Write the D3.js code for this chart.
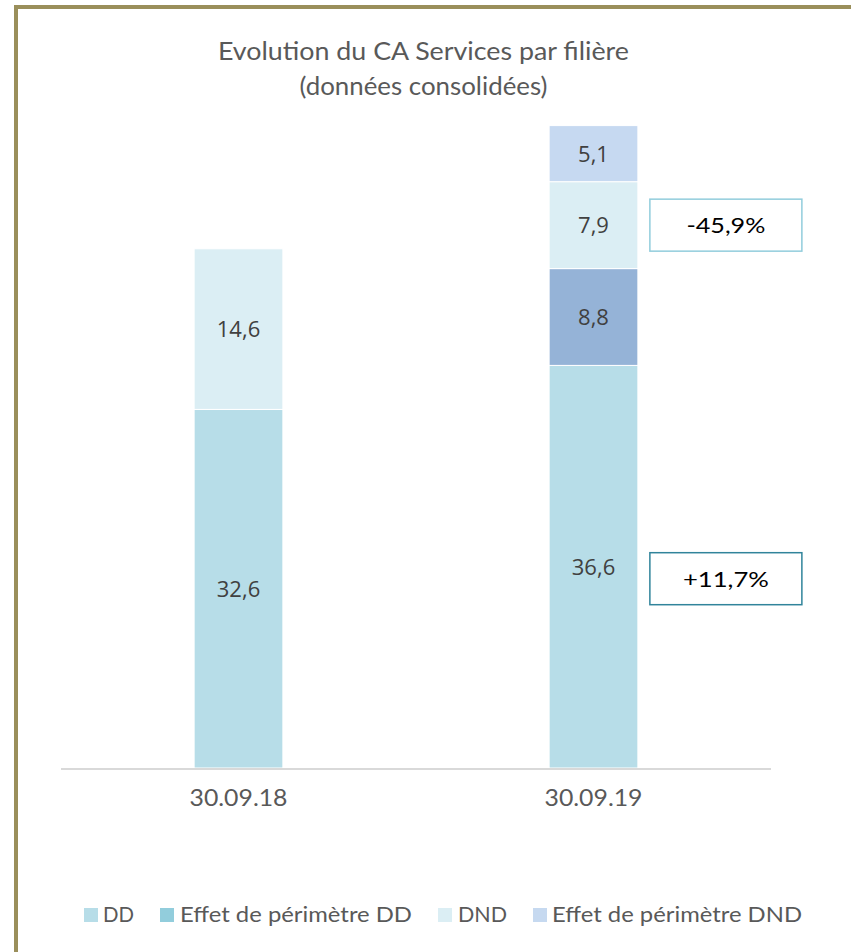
<!DOCTYPE html>
<html>
<head>
<meta charset="utf-8">
<script src="https://cdn.jsdelivr.net/npm/d3@7"></script>
<style>
  html, body { margin: 0; padding: 0; background: #ffffff; }
  svg { display: block; }
</style>
</head>
<body>
<script>
// ---- data ----
const categories = ["30.09.18", "30.09.19"];
const seriesNames = ["DD", "Effet de périmètre DD", "DND", "Effet de périmètre DND"];
const valuesDD = [32.6, 36.6];
const valuesEffetDD = [0, 8.8];
const valuesDND = [14.6, 7.9];
const valuesEffetDND = [0, 5.1];
const barColors = ["#b7dde8", "#95b3d7", "#dbeef4", "#c6d9f1"];
const legendColors = ["#b7dde8", "#92cddc", "#dbeef4", "#c6d9f0"];
const titleLines = ["Evolution du CA Services par filière", "(données consolidées)"];
const changeLabels = ["-45,9%", "+11,7%"];   // DND change, DD change
const changeColors = ["#92cddc", "#31849b"];

// ---- build ----
const W = 851, H = 952;
const svg = d3.select("body").append("svg").attr("width", W).attr("height", H);

// frame
svg.append("rect").attr("x", 16).attr("y", 7).attr("width", W + 20).attr("height", H + 20)
  .attr("fill", "#ffffff").attr("stroke", "#9a8f5b").attr("stroke-width", 4);

const rows = categories.map((c, i) => ({
  cat: c,
  "DD": valuesDD[i],
  "Effet de périmètre DD": valuesEffetDD[i],
  "DND": valuesDND[i],
  "Effet de périmètre DND": valuesEffetDND[i]
}));
const stack = d3.stack().keys(seriesNames)(rows);

const x = d3.scaleBand().domain(categories).range([61, 771]).paddingInner(0.75).paddingOuter(0.375);
const y = d3.scaleLinear().domain([0, 60]).range([768, 108]);
const color = d3.scaleOrdinal().domain(seriesNames).range(barColors);

// title
const title = svg.append("g").attr("font-family", "Lato, 'Open Sans', sans-serif")
  .attr("fill", "#595959").attr("font-size", 25).attr("text-anchor", "middle");
title.append("text").attr("x", 423.5).attr("y", 60).attr("textLength", 411)
  .attr("lengthAdjust", "spacingAndGlyphs").text(titleLines[0]);
title.append("text").attr("x", 423.5).attr("y", 95).attr("textLength", 248)
  .attr("lengthAdjust", "spacingAndGlyphs").text(titleLines[1]);

// bars
const layers = svg.append("g").selectAll("g").data(stack).join("g")
  .attr("fill", d => color(d.key));
layers.selectAll("rect").data(d => d.filter(s => s[1] - s[0] > 0)).join("rect")
  .attr("x", d => x(d.data.cat))
  .attr("width", x.bandwidth())
  .attr("y", d => y(d[1]))
  .attr("height", d => y(d[0]) - y(d[1]))
  .attr("stroke", "#ffffff").attr("stroke-width", 1);

// data labels
const fmt = v => d3.format(".1f")(v).replace(".", ",");
layers.selectAll("text").data(d => d.filter(s => s[1] - s[0] > 0)).join("text")
  .attr("x", d => x(d.data.cat) + x.bandwidth() / 2)
  .attr("y", d => (y(d[0]) + y(d[1])) / 2 + 8)
  .attr("text-anchor", "middle")
  .attr("font-family", "'Open Sans', 'Liberation Sans', sans-serif")
  .attr("font-size", 22)
  .attr("fill", "#404040")
  .text(d => fmt(d[1] - d[0]));

// x axis
const xAxis = svg.append("g").attr("transform", "translate(0,769)")
  .call(d3.axisBottom(x).tickSize(0).tickPadding(0));
xAxis.select(".domain").attr("stroke", "#d9d9d9").attr("stroke-width", 2)
  .attr("d", "M61,0H771");
xAxis.selectAll("text")
  .attr("dy", null).attr("y", 37)
  .attr("font-family", "Lato, 'Open Sans', sans-serif")
  .attr("font-size", 24).attr("fill", "#595959")
  .attr("textLength", 98).attr("lengthAdjust", "spacingAndGlyphs");

// change annotations (next to 30.09.19 bar)
const lastCat = categories[categories.length - 1];
const lastIdx = categories.length - 1;
const dndLayer = stack[seriesNames.indexOf("DND")][lastIdx];
const ddLayer = stack[seriesNames.indexOf("DD")][lastIdx];
const boxX = x(lastCat) + x.bandwidth() + 12;
const boxes = [
  { label: changeLabels[0], cy: (y(dndLayer[0]) + y(dndLayer[1])) / 2, stroke: changeColors[0], tl: 79 },
  { label: changeLabels[1], cy: (y(ddLayer[0]) + y(ddLayer[1])) / 2 + 12, stroke: changeColors[1], tl: 86 }
];
const ann = svg.append("g").selectAll("g").data(boxes).join("g");
ann.append("rect")
  .attr("x", boxX).attr("y", d => d.cy - 26).attr("width", 152).attr("height", 52)
  .attr("fill", "#ffffff").attr("stroke", d => d.stroke).attr("stroke-width", 1.5);
ann.append("text")
  .attr("x", boxX + 76).attr("y", d => d.cy + 8)
  .attr("text-anchor", "middle")
  .attr("font-family", "Lato, 'Open Sans', sans-serif")
  .attr("font-size", 21).attr("fill", "#000000")
  .attr("textLength", d => d.tl).attr("lengthAdjust", "spacingAndGlyphs")
  .text(d => d.label);

// legend
const legendItems = [
  { sx: 84, tx: 103, tw: 31 },
  { sx: 160, tx: 180, tw: 232 },
  { sx: 438, tx: 458, tw: 49 },
  { sx: 533, tx: 552, tw: 250 }
];
const leg = svg.append("g").selectAll("g").data(seriesNames).join("g");
leg.append("rect")
  .attr("x", (d, i) => legendItems[i].sx).attr("y", 908)
  .attr("width", 14).attr("height", 14)
  .attr("fill", (d, i) => legendColors[i]);
leg.append("text")
  .attr("x", (d, i) => legendItems[i].tx).attr("y", 922)
  .attr("font-family", "Lato, 'Open Sans', sans-serif")
  .attr("font-size", 21).attr("fill", "#595959")
  .attr("textLength", (d, i) => legendItems[i].tw).attr("lengthAdjust", "spacingAndGlyphs")
  .text(d => d);
</script>
</body>
</html>
